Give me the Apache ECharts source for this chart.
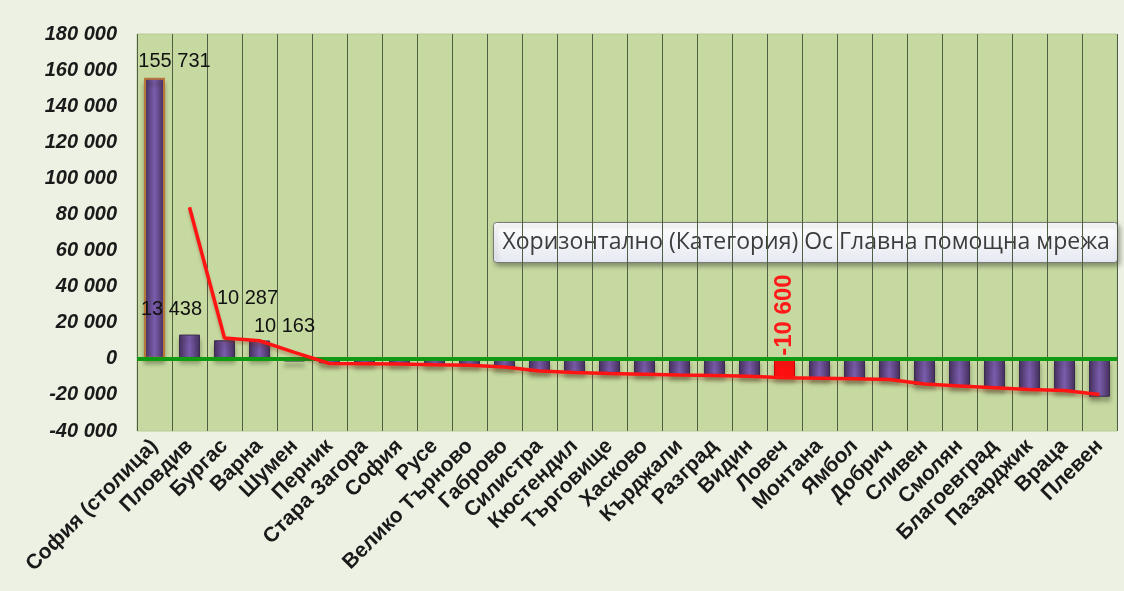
<!DOCTYPE html>
<html>
<head>
<meta charset="utf-8">
<script src="https://cdn.jsdelivr.net/npm/echarts@6/dist/echarts.min.js"></script>
<style>
html,body{margin:0;padding:0;background:#edf1e3;}
#c{width:1124px;height:591px;}
</style>
</head>
<body>
<div id="c"></div>
<script>
const categories = ['София (столица)','Пловдив','Бургас','Варна','Шумен','Перник','Стара Загора','София','Русе','Велико Търново','Габрово','Силистра','Кюстендил','Търговище','Хасково','Кърджали','Разград','Видин','Ловеч','Монтана','Ямбол','Добрич','Сливен','Смолян','Благоевград','Пазарджик','Враца','Плевен'];
const barValues = [155731, 13438, 10287, 10163, -1500, -2500, -2800, -3000, -3500, -3800, -5000, -7200, -7800, -8200, -8500, -9000, -9300, -9800, -10600, -10800, -11200, -11500, -14500, -15500, -16500, -17200, -17800, -21000];
const lineValues = [null, 84000, 11500, 10000, 3600, -2600, -2700, -2900, -3300, -3600, -4500, -6800, -7600, -8200, -8600, -9000, -9300, -9700, -10500, -10700, -11000, -11500, -14000, -15000, -16000, -17000, -17500, -19800];
const labelledBars = ['София (столица)', 'Пловдив', 'Бургас', 'Варна', 'Ловеч'];
const highlightedBar = 'Ловеч';
const tipText = 'Хоризонтално (Категория) Ос Главна помощна мрежа';
const yMin = -40000, yMax = 180000, yStep = 20000;

function fmt(v){
  const s = String(Math.abs(Math.round(v))).replace(/\B(?=(\d{3})+(?!\d))/g, ' ');
  return (v < 0 ? '-' : '') + s;
}

const FONT = '"Liberation Sans", Arial, sans-serif';

// label placement (style only)
const labelStyle = {
  'София (столица)': {offset:[20,-1]},
  'Пловдив': {offset:[-18,-10]},
  'Бургас': {offset:[23,-27]},
  'Варна': {offset:[25,1]},
  'Ловеч': {rotate:90, align:'left', verticalAlign:'middle', color:'#ff1a1a', fontWeight:'bold', fontSize:24, distance:3, offset:[0,0]}
};

const purple = {type:'linear',x:0,y:0,x2:1,y2:0,colorStops:[{offset:0,color:'#46305f'},{offset:0.5,color:'#7a5cab'},{offset:1,color:'#46305f'}]};

const barData = barValues.map((v,i)=>{
  const name = categories[i];
  const item = {value:v};
  if (name === highlightedBar) item.itemStyle = {color:'#ff1010', borderColor:'#d00000'};
  if (i === 0) item.itemStyle = {borderColor:'#b9773a', borderWidth:2};
  if (labelledBars.includes(name)) {
    item.label = Object.assign({show:true, position:'top', formatter:(p)=>fmt(p.value)}, labelStyle[name]);
  }
  return item;
});

const chart = echarts.init(document.getElementById('c'));
chart.setOption({
  backgroundColor:'#edf1e3',
  animation:false,
  textStyle:{fontFamily:FONT},
  grid:{left:137, right:7, top:34, bottom:160, show:true, backgroundColor:'#c6d9a1', borderWidth:1, borderColor:'#b9cc98'},
  xAxis:{
    type:'category', data:categories, boundaryGap:true,
    axisLine:{show:false}, axisTick:{show:false},
    splitLine:{show:true, interval:0, lineStyle:{color:'#4f5f44', width:1}},
    axisLabel:{interval:0, rotate:45, fontSize:21, fontWeight:'bold', color:'#1a1a1a', margin:12, fontFamily:FONT}
  },
  yAxis:{
    type:'value', min:yMin, max:yMax, interval:yStep,
    axisLine:{show:false}, axisTick:{show:false}, splitLine:{show:false},
    axisLabel:{fontSize:20, fontWeight:'bold', fontStyle:'italic', color:'#1a1a1a', margin:20, formatter:fmt, fontFamily:FONT}
  },
  series:[
    {
      type:'bar', data:barData, barWidth:'60%',
      itemStyle:{color:purple, borderColor:'#3a2a4e', borderWidth:1, shadowColor:'rgba(40,50,20,0.35)', shadowBlur:4, shadowOffsetY:5},
      label:{show:false, fontSize:20, color:'#111', fontFamily:FONT},
      markLine:{silent:true, symbol:['none','none'], label:{show:false}, lineStyle:{color:'#0f9a12', width:4, type:'solid'}, data:[{yAxis:0}]}
    },
    {
      type:'line', data:lineValues, showSymbol:false, symbol:'none', connectNulls:false,
      lineStyle:{color:'#ff1414', width:3.5, shadowColor:'rgba(120,40,20,0.3)', shadowBlur:3, shadowOffsetY:3},
      z:5
    }
  ],
  graphic:[
    {
      type:'group', left:493, top:222, z:100,
      children:[
        {type:'rect', shape:{x:0,y:0,width:624,height:40,r:3},
         style:{fill:{type:'linear',x:0,y:0,x2:0,y2:1,colorStops:[{offset:0,color:'#ffffff'},{offset:1,color:'#e6e9f2'}]}, stroke:'#7a7a7a', lineWidth:1, shadowColor:'rgba(0,0,0,0.35)', shadowBlur:5, shadowOffsetX:2, shadowOffsetY:3}},
        {type:'text', x:9, y:20, style:{text:tipText, fill:'#3c3c3c', font:'23px "Open Sans", sans-serif', verticalAlign:'middle'}}
      ]
    }
  ]
});
</script>
</body>
</html>
